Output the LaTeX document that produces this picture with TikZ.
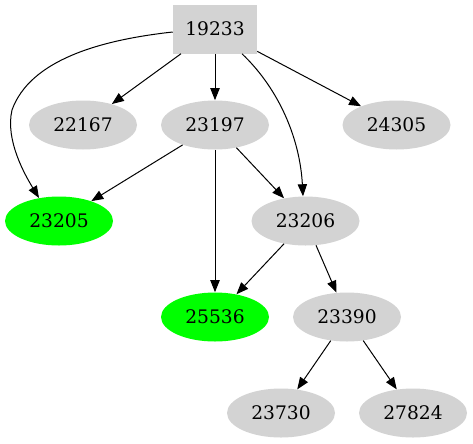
\documentclass[tikz,border=0pt]{standalone}
\usepackage{fontspec}
\setmainfont{DejaVu Serif}
\usetikzlibrary{arrows.meta,shapes.geometric}
\definecolor{lgray}{RGB}{211,211,211}
\definecolor{gvgreen}{RGB}{0,255,0}
\begin{document}
\begin{tikzpicture}[x=0.75pt,y=-0.75pt,
 every node/.style={font=\fontsize{14}{16}\selectfont, inner sep=0pt},
 gnode/.style={ellipse, fill=lgray, minimum width=81pt, minimum height=36.75pt},
 hitnode/.style={ellipse, fill=gvgreen, minimum width=81pt, minimum height=36.75pt},
 rootnode/.style={rectangle, fill=lgray, minimum width=63pt, minimum height=36.75pt},
 conn/.style={-{Triangle[length=9pt,width=7pt]}, line width=0.75pt}]
\useasboundingbox (0,0) rectangle (473,443);
\node[rootnode] (n19233) at (215,29) {19233};
\node[gnode] (n22167) at (83,125) {22167};
\node[gnode] (n23197) at (215,125) {23197};
\node[gnode] (n24305) at (396.5,125) {24305};
\node[hitnode] (n23205) at (59,221) {23205};
\node[gnode] (n23206) at (305.5,221) {23206};
\node[hitnode] (n25536) at (215,317) {25536};
\node[gnode] (n23390) at (347,317) {23390};
\node[gnode] (n23730) at (281,413) {23730};
\node[gnode] (n27824) at (413,413) {27824};
\draw[conn] (n19233.west |- 0,32) .. controls (100,40) and (30,60) .. (12,110)
  .. controls (5,140) and (25,175) .. (n23205.131);
\draw[conn] (n19233) -- (n22167);
\draw[conn] (n19233) -- (n23197);
\draw[conn] (n19233) -- (n24305);
\draw[conn] (n19233.south east -| 242,0) .. controls (280,90) and (300,140) .. (n23206.north -| 303,0);
\draw[conn] (n23197) -- (n23205);
\draw[conn] (n23197) -- (n23206);
\draw[conn] (n23197) -- (n25536);
\draw[conn] (n23206) -- (n25536);
\draw[conn] (n23206) -- (n23390);
\draw[conn] (n23390) -- (n23730);
\draw[conn] (n23390) -- (n27824);
\end{tikzpicture}
\end{document}
